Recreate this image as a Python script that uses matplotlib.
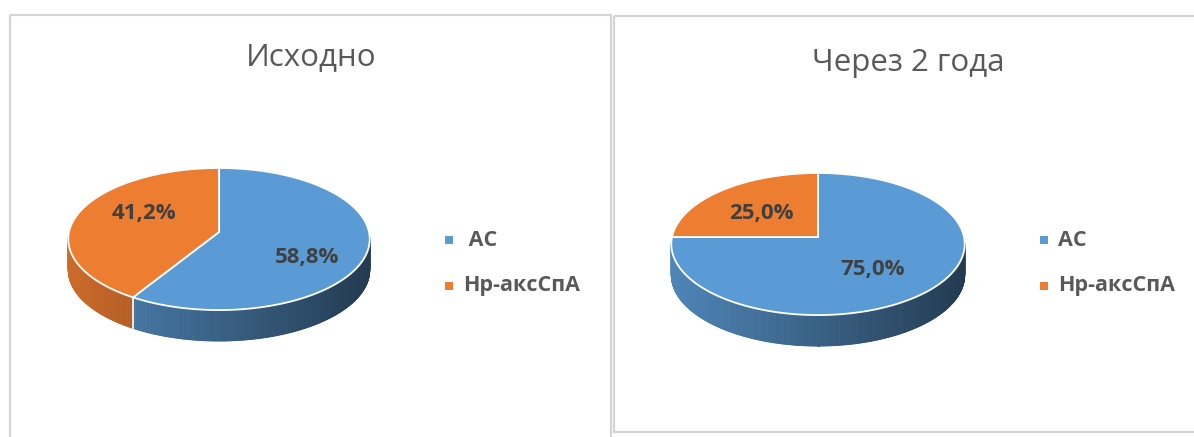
import numpy as np
import matplotlib.pyplot as plt
from matplotlib.patches import Polygon, Rectangle
from matplotlib.collections import PolyCollection

plt.rcParams['font.family'] = ['Open Sans', 'DejaVu Sans']

# data
categories = ['АС', 'Нр-аксСпА']
titles = ['Исходно', 'Через 2 года']
shares_before = [58.8, 41.2]
shares_after = [75.0, 25.0]
colors = ['#5B9BD5', '#ED7D31']

W, H = 1194, 437
fig = plt.figure(figsize=(W / 100, H / 100), dpi=100)
ax = fig.add_axes([0, 0, 1, 1])
ax.set_xlim(0, W)
ax.set_ylim(H, 0)
ax.axis('off')

K = 0.099  # perspective strength


def shade(c, f):
    r, g, b = [int(c[i:i + 2], 16) / 255 for i in (1, 3, 5)]
    return (r * f, g * f, b * f)


def rim(cx, cy, rx, ry, th, r=1.0):
    t = np.radians(th)
    s = r / (1 + K * r * np.cos(t))
    return cx + rx * np.sin(t) * s, cy - ry * np.cos(t) * s


def pie3d(cx, top, rx, shares, title, tx, ty, lx, lab_off, lead=''):
    ry, depth = 64 * (1 + K), 31
    cy = top + 64
    total = sum(shares)
    bounds = np.cumsum([0] + [360 * s / total for s in shares])

    # side walls with horizontal gradient
    for i, c in enumerate(colors):
        a0, a1 = max(bounds[i], 90), min(bounds[i + 1], 270)
        if a1 <= a0:
            continue
        th = np.linspace(a0, a1, int((a1 - a0) * 2) + 2)
        xs, ys = rim(cx, cy, rx, ry, th)
        quads, cols = [], []
        for k in range(len(th) - 1):
            quads.append([(xs[k], ys[k]), (xs[k + 1], ys[k + 1]),
                          (xs[k + 1], ys[k + 1] + depth), (xs[k], ys[k] + depth)])
            fx = ((xs[k] + xs[k + 1]) / 2 - (cx - rx)) / (2 * rx)
            cols.append(shade(c, 0.86 - 0.48 * fx))
        ax.add_collection(PolyCollection(quads, facecolors=cols, edgecolors=cols,
                                         linewidths=0.6))
    for b in bounds:
        if 90 < b < 270:
            bx, by = rim(cx, cy, rx, ry, np.array([b]))
            ax.plot([bx[0], bx[0]], [by[0], by[0] + depth], color='white', lw=1.2)

    # top faces
    for i, c in enumerate(colors):
        th = np.linspace(bounds[i], bounds[i + 1], 200)
        xs, ys = rim(cx, cy, rx, ry, th)
        pts = [(cx, cy)] + list(zip(xs, ys))
        ax.add_patch(Polygon(pts, closed=True, facecolor=c, edgecolor='white',
                             lw=1.3, joinstyle='miter'))
        mid = (bounds[i] + bounds[i + 1]) / 2
        mx, my = rim(cx, cy, rx, ry, np.array([mid]), r=0.6)
        dx, dy = lab_off[i]
        ax.text(mx[0] + dx, my[0] + dy, f'{shares[i]:.1f}'.replace('.', ',') + '%',
                ha='center', va='center', fontsize=16, fontweight='bold', color='#404040')

    ax.text(tx, ty, title, ha='center', va='center', fontsize=22.5, color='#595959')

    for j, name in enumerate(categories):
        ly = 240 + 46 * j
        ax.add_patch(Rectangle((lx - 4, ly - 4), 8, 8, facecolor=colors[j], lw=0))
        ax.text(lx + 14, ly, (lead if j == 0 else '') + name, ha='left', va='center',
                fontsize=15.5, fontweight='bold', color='#595959')


# panel frames
ax.add_patch(Rectangle((9.5, 15), 601, 440, fill=False, edgecolor='#d4d4d4', lw=1.6))
ax.add_patch(Rectangle((614, 16), 600, 416, fill=False, edgecolor='#d4d4d4', lw=1.6))

pie3d(219, 168, 150, shares_before, titles[0], 311, 57, 449,
      [(0, 14), (10, -7)], lead=' ')
pie3d(818, 173, 146, shares_after, titles[1], 908, 63, 1044,
      [(-10, 1), (3, 5)])

fig.savefig('out.png', dpi=100)
